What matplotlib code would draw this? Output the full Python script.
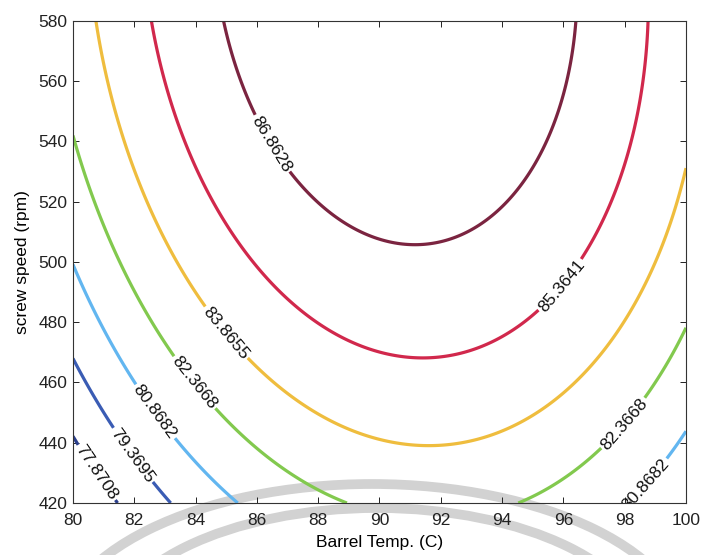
import numpy as np
import matplotlib
matplotlib.use("Agg")
import matplotlib.pyplot as plt
from matplotlib.patches import Arc

plt.rcParams['font.family'] = ['Liberation Sans', 'DejaVu Sans']

# Contour levels shown in the chart
levels = [77.8708, 79.3695, 80.8682, 82.3668, 83.8655, 85.3641, 86.8628]
level_colors = ['#2b3f8c', '#3a5cb4', '#62b6f0', '#82c94e', '#efbd3e', '#d1284c', '#7b2440']

pt_level = ([86.8628] * 5 + [85.3641] * 7 + [83.8655] * 7 + [82.3668] * 8
            + [80.8682] * 6 + [79.3695] * 2 + [77.8708] * 2)
pt_temp = [84.90, 96.34, 91.13, 89.06, 86.45,
           82.53, 98.79, 91.57, 86.56, 89.39, 95.27, 96.00,
           80.76, 100.0, 91.90, 83.67, 89.39, 98.76, 84.98,
           80.0, 100.0, 88.90, 94.62, 81.82, 84.71, 83.94, 98.02,
           80.0, 85.34, 100.0, 97.89, 81.98, 82.66,
           80.0, 83.16,
           80.0, 81.44]
pt_speed = [580, 580, 506.2, 512.8, 539.0,
            580, 580, 468.0, 494.0, 471.9, 484.6, 491.5,
            580, 532.1, 439.0, 494.0, 443.2, 494.0, 476.4,
            540.4, 478.0, 420, 420, 494.0, 450.9, 459.8, 445.9,
            500.0, 420, 443.2, 420, 459.7, 450.2,
            468.6, 420,
            442.9, 420]

# Label positions (Barrel Temp, screw speed)
label_pos = [(86.45, 539.0), (96.0, 491.5), (84.98, 476.4), (83.94, 459.8),
             (98.02, 445.9), (82.66, 450.2), (98.6, 427.0), (81.97, 436.0),
             (80.8, 430.3)]

xticks = list(range(80, 101, 2))
yticks = list(range(420, 581, 20))

# Second-order response surface fitted through the read points
T = np.array(pt_temp); S = np.array(pt_speed); L = np.array(pt_level)
t = (T - 90) / 10; s = (S - 500) / 80
A = np.column_stack([np.ones_like(t), t, s, t * t, s * s, t * s])
coef, *_ = np.linalg.lstsq(A, L, rcond=None)

gx = np.linspace(80, 100, 241)
gy = np.linspace(420, 580, 241)
GX, GY = np.meshgrid(gx, gy)
gt = (GX - 90) / 10; gs = (GY - 500) / 80
Z = (coef[0] + coef[1] * gt + coef[2] * gs + coef[3] * gt * gt
     + coef[4] * gs * gs + coef[5] * gt * gs)

fig = plt.figure(figsize=(7.03, 5.55), dpi=100)
fig.patch.set_facecolor('white')
ax = fig.add_axes([0.1038, 0.0937, 0.8720, 0.8690])
ax.patch.set_alpha(0)

cs = ax.contour(GX, GY, Z, levels=levels, colors=level_colors, linewidths=2.3)
ax.clabel(cs, levels, manual=label_pos, inline=True, inline_spacing=2,
          fmt='%.4f', fontsize=12.5, colors='#111111')

ax.set_xlim(80, 100)
ax.set_ylim(420, 580)
ax.set_xticks(xticks)
ax.set_yticks(yticks)
ax.tick_params(direction='in', top=True, right=True, length=4, width=0.7,
               labelsize=12.5, colors='#222222')
ax.tick_params(axis='x', pad=7)
ax.tick_params(axis='y', pad=4)
for sp in ax.spines.values():
    sp.set_linewidth(0.8)
    sp.set_color('#333333')
ax.set_xlabel('Barrel Temp. (C)', fontsize=12.5, labelpad=5)
ax.set_ylabel('screw speed (rpm)', fontsize=12.5, labelpad=6)

# faint grey watermark arcs of the scanned page
for cx, cy, a, b in [(372, 640, 316, 156), (377, 640, 270, 132)]:
    fig.add_artist(Arc((cx / 703, 1 - cy / 555), 2 * a / 703, 2 * b / 555,
                       theta1=0, theta2=180, transform=fig.transFigure,
                       lw=7, color='#d2d2d2', zorder=-1))

fig.savefig('out.png', dpi=100, facecolor='white')
